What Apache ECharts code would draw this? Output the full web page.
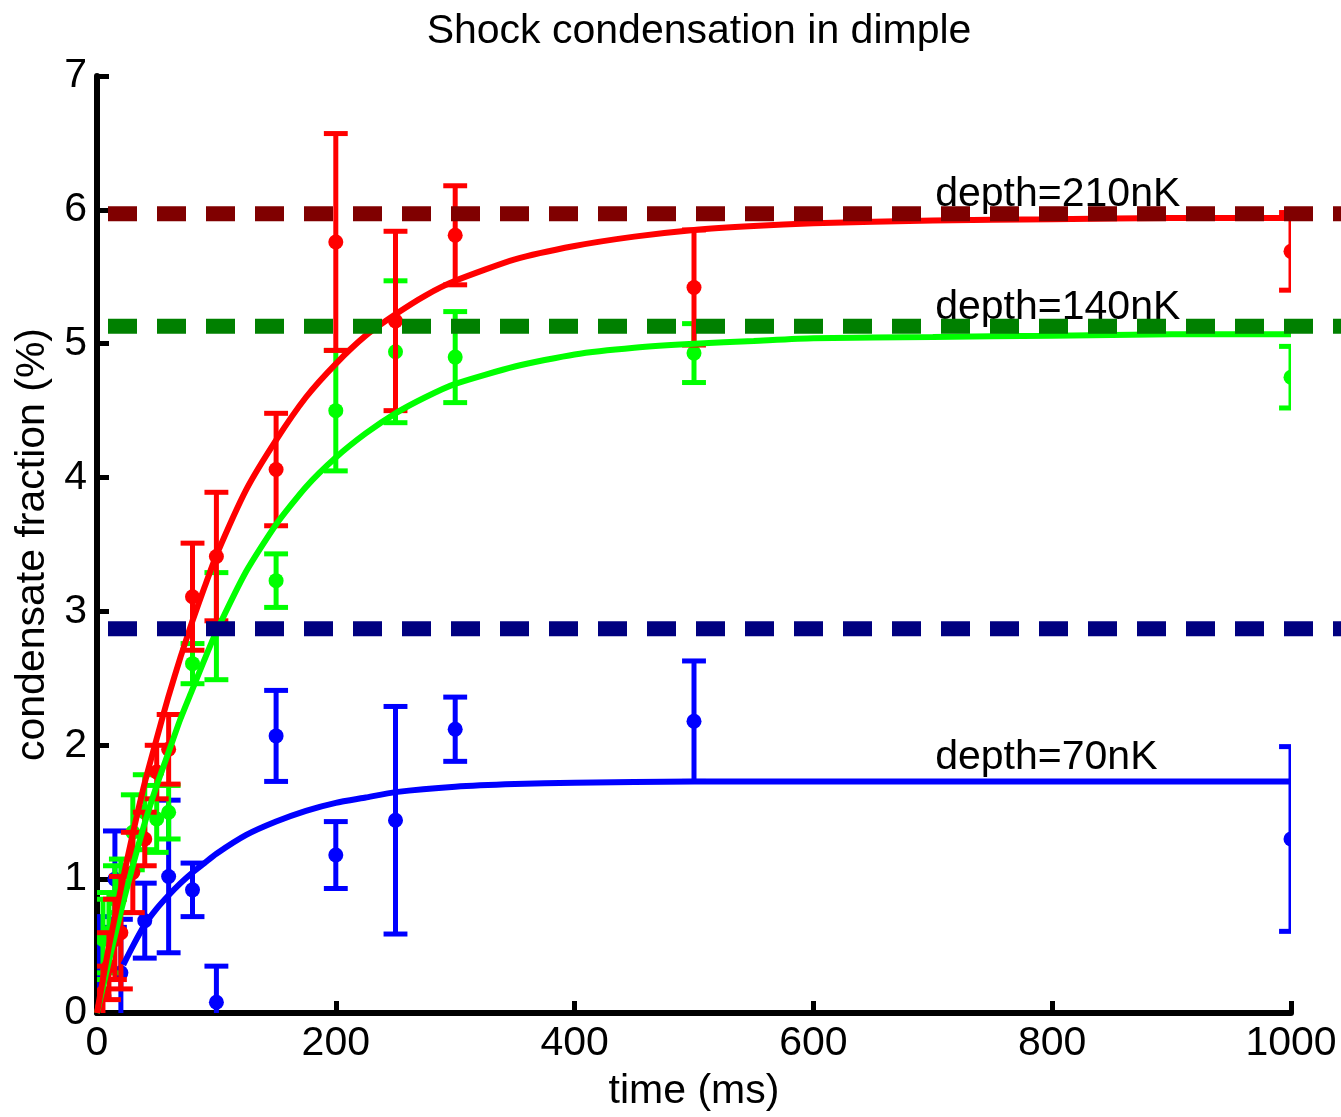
<!DOCTYPE html>
<html>
<head>
<meta charset="utf-8">
<script src="https://cdn.jsdelivr.net/npm/echarts@6/dist/echarts.min.js"></script>
<style>
  html, body { margin: 0; padding: 0; background: #fff; }
  #chart { width: 1341px; height: 1117px; }
</style>
</head>
<body>
<div id="chart"></div>
<script>
// ---------------- data ----------------
const titleText = 'Shock condensation in dimple';
const xAxisName = 'time (ms)';
const yAxisName = 'condensate fraction (%)';

// depth = 70 nK (blue)
const blueT   = [2, 15, 20, 40, 60, 80, 100, 150, 200, 250, 300, 500, 1000];
const blueY   = [0.42, 1.0, 0.3, 0.69, 1.02, 0.92, 0.08, 2.07, 1.18, 1.44, 2.12, 2.18, 1.30];
const blueErr = [0.3, 0.36, 0.4, 0.28, 0.57, 0.2, 0.27, 0.34, 0.25, 0.85, 0.24, 0.45, 0.69];

// depth = 140 nK (green)
const greenT   = [5, 10, 15, 20, 30, 40, 50, 60, 80, 100, 150, 200, 250, 300, 500, 1000];
const greenY   = [0.55, 0.6, 0.85, 0.95, 1.35, 1.5, 1.45, 1.5, 2.61, 2.89, 3.23, 4.50, 4.94, 4.90, 4.93, 4.75];
const greenErr = [0.3, 0.3, 0.25, 0.2, 0.28, 0.28, 0.25, 0.2, 0.15, 0.4, 0.2, 0.45, 0.53, 0.34, 0.22, 0.23];

// depth = 210 nK (red)
const redT   = [5, 10, 15, 20, 30, 40, 50, 60, 80, 100, 150, 200, 250, 300, 500, 1000];
const redY   = [0.15, 0.35, 0.55, 0.6, 1.05, 1.3, 1.8, 1.97, 3.11, 3.41, 4.06, 5.76, 5.17, 5.81, 5.42, 5.69];
const redErr = [0.2, 0.25, 0.3, 0.42, 0.3, 0.2, 0.2, 0.26, 0.4, 0.48, 0.42, 0.81, 0.67, 0.37, 0.43, 0.29];

// fitted curves
const fitT     = [0, 10, 20, 30, 40, 50, 60, 70, 80, 90, 100, 125, 150, 175, 200, 225, 250, 275, 300, 350, 400, 450, 500, 550, 600, 700, 800, 900, 1000];
const redFit   = [0, 0.5, 0.93, 1.34, 1.72, 2.05, 2.37, 2.66, 2.93, 3.18, 3.42, 3.91, 4.28, 4.6, 4.85, 5.06, 5.22, 5.36, 5.47, 5.63, 5.73, 5.8, 5.85, 5.88, 5.9, 5.92, 5.93, 5.94, 5.94];
const greenFit = [0, 0.39, 0.76, 1.1, 1.42, 1.7, 1.95, 2.2, 2.42, 2.64, 2.85, 3.3, 3.65, 3.93, 4.15, 4.33, 4.48, 4.6, 4.7, 4.83, 4.92, 4.97, 5.0, 5.02, 5.04, 5.05, 5.06, 5.07, 5.07];
const blueFitT = [22, 30, 40, 50, 60, 70, 80, 90, 100, 125, 150, 175, 200, 225, 250, 300, 350, 400, 500, 600, 800, 1000];
const blueFit  = [0.36, 0.5, 0.66, 0.78, 0.88, 0.97, 1.05, 1.12, 1.19, 1.33, 1.43, 1.51, 1.57, 1.61, 1.65, 1.69, 1.71, 1.72, 1.73, 1.73, 1.73, 1.73];

// trap depth levels (dashed lines) and their labels
const depthLevels = [5.97, 5.13, 2.87];
const depthLabels = ['depth=210nK', 'depth=140nK', 'depth=70nK'];
const labelT = [702, 702, 702];
const labelY = [6.11, 5.27, 1.91];

const xTicks = [0, 200, 400, 600, 800, 1000];
const yTicks = [0, 1, 2, 3, 4, 5, 6, 7];

// ---------------- chart ----------------
const FONT = "'Liberation Sans', Arial, Helvetica, sans-serif";
const FS = 41;
const chart = echarts.init(document.getElementById('chart'), null, { renderer: 'canvas' });

function zip3(a, b, c) { return a.map((v, i) => [v, b[i], c[i]]); }
function zip2(a, b) { return a.map((v, i) => [v, b[i]]); }

function errRenderer(color) {
  return function (params, api) {
    const t = api.value(0), y = api.value(1), e = api.value(2);
    const p = api.coord([t, y]);
    const top = api.coord([t, y + e]);
    const bot = api.coord([t, y - e]);
    const half = api.size([10, 0])[0];
    const st = { stroke: color, lineWidth: 5, lineCap: 'butt' };
    return {
      type: 'group',
      children: [
        { type: 'line', shape: { x1: p[0], y1: top[1], x2: p[0], y2: bot[1] }, style: st },
        { type: 'line', shape: { x1: p[0] - half, y1: top[1], x2: p[0] + half, y2: top[1] }, style: st },
        { type: 'line', shape: { x1: p[0] - half, y1: bot[1], x2: p[0] + half, y2: bot[1] }, style: st },
        { type: 'circle', shape: { cx: p[0], cy: p[1], r: 7.5 }, style: { fill: color } }
      ]
    };
  };
}

function errSeries(name, t, y, e, color) {
  return {
    name: name, type: 'custom', clip: true,
    data: zip3(t, y, e),
    encode: { x: 0, y: 1 },
    renderItem: errRenderer(color),
    silent: true, z: 2
  };
}
function fitSeries(name, t, y, color) {
  return {
    name: name, type: 'line', data: zip2(t, y), symbol: 'none',
    smooth: 0.2, clip: true,
    lineStyle: { color: color, width: 6 }, silent: true, z: 3
  };
}
const dashColors = ['#800000', '#008000', '#000080'];
const dashSeries = {
  type: 'custom', clip: false, silent: true, z: 5,
  data: depthLevels.map((lv, i) => [lv, i]),
  encode: { y: 0 },
  renderItem: function (params, api) {
    const lv = api.value(0), i = api.value(1);
    const a = api.coord([0, lv]);
    const endX = params.coordSys.x + params.coordSys.width + 60;
    return {
      type: 'line',
      shape: { x1: a[0], y1: a[1], x2: endX, y2: a[1] },
      style: { stroke: dashColors[i], lineWidth: 15, lineDash: [29, 20], lineDashOffset: 38, lineCap: 'butt' }
    };
  }
};
const labelSeries = {
  type: 'custom', clip: false, silent: true, z: 4,
  data: labelT.map((t, i) => [t, labelY[i], i]),
  encode: { x: 0, y: 1 },
  renderItem: function (params, api) {
    const p = api.coord([api.value(0), api.value(1)]);
    return {
      type: 'text',
      x: p[0], y: p[1],
      style: {
        text: depthLabels[api.value(2)],
        font: FS + 'px ' + FONT,
        fill: '#000',
        textAlign: 'left',
        textVerticalAlign: 'middle'
      }
    };
  }
};

const option = {
  animation: false,
  backgroundColor: '#ffffff',
  title: {
    text: titleText, left: 694, top: 6, textAlign: 'center',
    textStyle: { fontFamily: FONT, fontSize: FS, fontWeight: 'normal', color: '#000' }
  },
  grid: { left: 97, right: 50, top: 76, bottom: 102, containLabel: false },
  xAxis: {
    type: 'value', min: 0, max: 1000, interval: 200,
    name: xAxisName, nameLocation: 'middle', nameGap: 58,
    nameTextStyle: { fontFamily: FONT, fontSize: FS, color: '#000' },
    axisLine: { show: true, lineStyle: { color: '#000', width: 6 } },
    axisTick: { show: true, inside: true, length: 12, lineStyle: { color: '#000', width: 5 } },
    axisLabel: { fontFamily: FONT, fontSize: FS, color: '#000', margin: 10, formatter: v => String(v) },
    splitLine: { show: false }
  },
  yAxis: {
    type: 'value', min: 0, max: 7, interval: 1,
    name: yAxisName, nameLocation: 'middle', nameGap: 43, nameRotate: 90,
    nameTextStyle: { fontFamily: FONT, fontSize: FS, color: '#000' },
    axisLine: { show: true, onZero: false, lineStyle: { color: '#000', width: 6 } },
    axisTick: { show: true, inside: true, length: 12, lineStyle: { color: '#000', width: 5 } },
    axisLabel: { fontFamily: FONT, fontSize: FS, color: '#000', margin: 10, formatter: v => String(v) },
    splitLine: { show: false }
  },
  series: [
    errSeries('70nK', blueT, blueY, blueErr, '#0000ff'),
    fitSeries('70nK fit', blueFitT, blueFit, '#0000ff'),
    errSeries('140nK', greenT, greenY, greenErr, '#00ff00'),
    fitSeries('140nK fit', fitT, greenFit, '#00ff00'),
    errSeries('210nK', redT, redY, redErr, '#ff0000'),
    fitSeries('210nK fit', fitT, redFit, '#ff0000'),
    labelSeries,
    dashSeries
  ]
};
chart.setOption(option);
</script>
</body>
</html>
